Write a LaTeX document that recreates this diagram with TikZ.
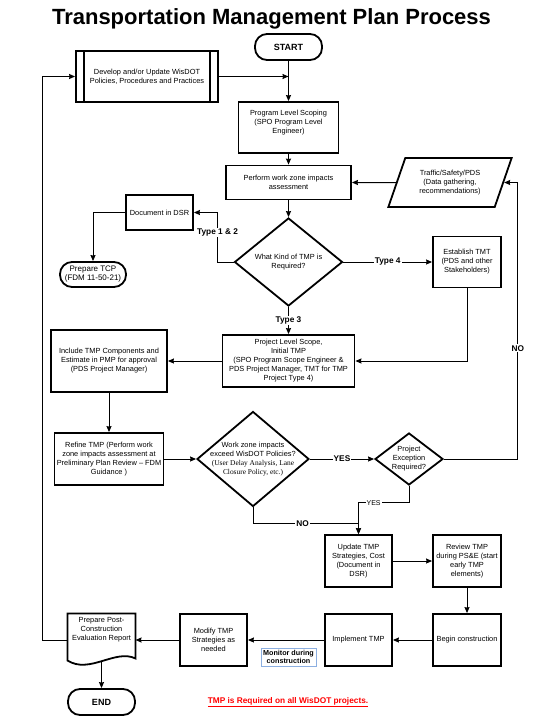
\documentclass[tikz,border=0pt]{standalone}
\usepackage{fontspec}
\setmainfont{Liberation Sans}
\newfontfamily\timesfont{Liberation Serif}
\usetikzlibrary{shapes.geometric, arrows.meta}
\definecolor{monblue}{RGB}{140,175,225}

\begin{document}
\begin{tikzpicture}[x=1pt, y=-1pt, line width=1pt,
	box/.style={draw, rectangle, line width=1.8pt, align=center, inner sep=1pt, font=\fontsize{7.4}{9}\selectfont},
	term/.style={box, rounded corners=12pt},
	decide/.style={draw, diamond, line width=1.8pt, inner sep=0pt},
	dtext/.style={align=center, inner sep=0pt, font=\fontsize{7.4}{9}\selectfont},
	lbl/.style={fill=white, inner sep=1pt, font=\bfseries\fontsize{8.3}{9}\selectfont},
	lblthin/.style={fill=white, inner sep=1pt, font=\fontsize{7}{8}\selectfont}]
				\useasboundingbox (0,0) rectangle (535,720);
				\node[font=\bfseries\fontsize{22}{26}\selectfont, anchor=base] (title)at(271.5, 24) {Transportation Management Plan Process};
				% top of the process
				\node[term, minimum width=67pt, minimum height=26pt, font=\bfseries\fontsize{9}{10}\selectfont] (start)at(288.5, 47) {START};
				\node[box, minimum width=142pt, minimum height=51pt] (dev)at(147, 76.5) {Develop and/or Update WisDOT\\Policies, Procedures and Practices};
				\draw[line width=1.8pt] ([xshift=9pt]dev.north west) -- ([xshift=9pt]dev.south west);
				\draw[line width=1.8pt] ([xshift=-9pt]dev.north east) -- ([xshift=-9pt]dev.south east);
				\node[box, minimum width=100pt, minimum height=51pt] (pls)at(288.5, 127.5) {Program Level Scoping\\(SPO Program Level\\Engineer)\\[3pt]};
				\node[box, minimum width=125pt, minimum height=34pt] (pwz)at(288.5, 182.5) {Perform work zone impacts\\assessment};
				\node[box, trapezium, trapezium left angle=66, trapezium right angle=114, trapezium stretches=true, minimum width=124pt, minimum height=49pt] (traffic)at(450, 182.5) {Traffic/Safety/PDS\\(Data gathering,\\recommendations)};
				% type of TMP
				\node[decide, minimum width=108pt, minimum height=88pt, label={[dtext]center:{What Kind of TMP is\\Required?}}] (tmp1)at(288.5, 262) {};
				\node[box, minimum width=67pt, minimum height=35pt] (dsr)at(159.5, 212.5) {Document in DSR};
				\node[term, minimum width=66pt, minimum height=25pt, font=\fontsize{8}{9}\selectfont] (tcp)at(93, 274.5) {Prepare TCP\\(FDM 11-50-21)};
				\node[box, minimum width=68pt, minimum height=51pt] (tmt)at(467, 262) {Establish TMT\\(PDS and other\\Stakeholders)};
				\node[box, minimum width=132pt, minimum height=52pt] (scope)at(288.5, 361) {Project Level Scope,\\Initial TMP\\(SPO Program Scope Engineer \&\\PDS Project Manager, TMT for TMP\\Project Type 4)};
				\node[box, minimum width=116pt, minimum height=62pt] (inc)at(109, 361) {Include TMP Components and\\Estimate in PMP for approval\\(PDS Project Manager)};
				\node[box, minimum width=109pt, minimum height=52pt] (ref)at(109, 459) {Refine TMP (Perform work\\zone impacts assessment at\\Preliminary Plan Review -- FDM\\Guidance )};
				\node[decide, minimum width=112pt, minimum height=95pt, label={[dtext]center:{Work zone impacts\\exceed WisDOT Policies?\\\timesfont(User Delay Analysis, Lane\\\timesfont Closure Policy, etc.)}}] (wz)at(253, 459) {};
				\node[decide, minimum width=68pt, minimum height=52pt, label={[dtext]center:{Project\\Exception\\Required?}}] (exc)at(409, 459) {};
				% design and construction
				\node[box, minimum width=67pt, minimum height=52pt] (upd)at(358.5, 561) {Update TMP\\Strategies, Cost\\(Document in\\DSR)};
				\node[box, minimum width=68pt, minimum height=52pt] (rev)at(467, 561) {Review TMP\\during PS\&E (start\\early TMP\\elements)};
				\node[box, minimum width=68pt, minimum height=52pt] (begin)at(467, 640) {Begin construction};
				\node[box, minimum width=67pt, minimum height=52pt] (impl)at(358.5, 640) {Implement TMP};
				\node[box, minimum width=67pt, minimum height=52pt] (mod)at(213.5, 640) {Modify TMP\\Strategies as\\needed};
				\node[draw=monblue, line width=0.8pt, align=center, inner sep=1pt, minimum width=55pt, minimum height=18pt, font=\bfseries\fontsize{7.2}{8.5}\selectfont] (mon)at(288.5, 657) {Monitor during\\construction};
				\node[minimum width=67pt, minimum height=52pt, label={[dtext, yshift=10pt]center:{Prepare Post-\\Construction\\Evaluation Report}}] (post)at(101.5, 640) {};
				\draw[line width=1.8pt] (post.north west) -- (post.north east) -- ([yshift=8pt]post.south east) .. controls +(-20,-10) and +(22,14) .. ([yshift=6pt]post.south west) -- cycle;
				\node[term, minimum width=67pt, minimum height=26pt, font=\bfseries\fontsize{9}{10}\selectfont] (end)at(101.5, 702) {END};
				\node[text=red, font=\bfseries\fontsize{8.3}{9}\selectfont] (note)at(288, 702) {\underline{TMP is Required on all WisDOT projects.}};
				% connectors
				\draw[->, >={Stealth[length=6pt, width=5pt, inset=0.5pt]}] (start) -- (pls);
				\draw[->, >={Stealth[length=6pt, width=5pt, inset=0.5pt]}] (dev) -- (dev -| pls);
				\draw[->, >={Stealth[length=6pt, width=5pt, inset=0.5pt]}] (pls) -- (pwz);
				\draw[->, >={Stealth[length=6pt, width=5pt, inset=0.5pt]}] (traffic) -- (pwz);
				\draw[->, >={Stealth[length=6pt, width=5pt, inset=0.5pt]}] (pwz) -- (tmp1);
				\draw[->, >={Stealth[length=6pt, width=5pt, inset=0.5pt]}] (tmp1.west) -- ++(-16,0) |- (dsr) node[lbl, pos=0.3] {Type 1 \& 2};
				\draw[->, >={Stealth[length=6pt, width=5pt, inset=0.5pt]}] (dsr) -| (tcp);
				\draw[->, >={Stealth[length=6pt, width=5pt, inset=0.5pt]}] (tmp1) -- (tmt) node[lbl, midway] {Type 4};
				\draw[->, >={Stealth[length=6pt, width=5pt, inset=0.5pt]}] (tmp1) -- (scope) node[lbl, midway] {Type 3};
				\draw[->, >={Stealth[length=6pt, width=5pt, inset=0.5pt]}] (tmt) |- (scope);
				\draw[->, >={Stealth[length=6pt, width=5pt, inset=0.5pt]}] (scope) -- (inc);
				\draw[->, >={Stealth[length=6pt, width=5pt, inset=0.5pt]}] (inc) -- (ref);
				\draw[->, >={Stealth[length=6pt, width=5pt, inset=0.5pt]}] (ref) -- (wz);
				\draw[->, >={Stealth[length=6pt, width=5pt, inset=0.5pt]}] (wz) -- (exc) node[lbl, midway] {YES};
				\draw[->, >={Stealth[length=6pt, width=5pt, inset=0.5pt]}] (exc.east) -- ++(74,0) |- (traffic) node[lbl, pos=0.2] {NO};
				\draw[->, >={Stealth[length=6pt, width=5pt, inset=0.5pt]}] (exc.south) -- ++(0,17) -| (upd) node[lblthin, pos=0.35] {YES};
				\draw[->, >={Stealth[length=6pt, width=5pt, inset=0.5pt]}] (wz.south) -- ++(0,16) -| (upd) node[lbl, pos=0.235] {NO};
				\draw[->, >={Stealth[length=6pt, width=5pt, inset=0.5pt]}] (upd) -- (rev);
				\draw[->, >={Stealth[length=6pt, width=5pt, inset=0.5pt]}] (rev) -- (begin);
				\draw[->, >={Stealth[length=6pt, width=5pt, inset=0.5pt]}] (begin) -- (impl);
				\draw[->, >={Stealth[length=6pt, width=5pt, inset=0.5pt]}] (impl) -- (mod);
				\draw[->, >={Stealth[length=6pt, width=5pt, inset=0.5pt]}] (mod) -- (post);
				\draw[->, >={Stealth[length=6pt, width=5pt, inset=0.5pt]}] (post.west) -- ++(-25,0) |- (dev);
				\draw[->, >={Stealth[length=6pt, width=5pt, inset=0.5pt]}] ([yshift=5pt]post.south) -- (end);
			\end{tikzpicture}
\end{document}
